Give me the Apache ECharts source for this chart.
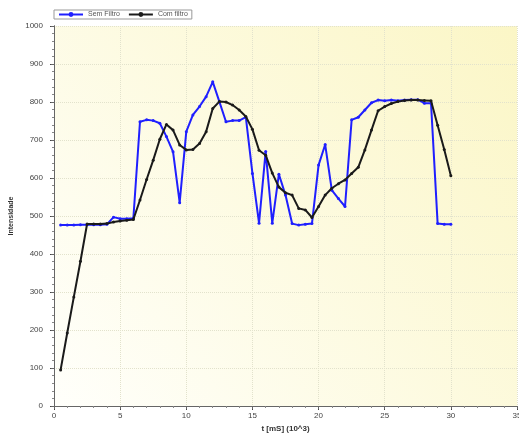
<!DOCTYPE html>
<html><head><meta charset="utf-8">
<script src="https://cdn.jsdelivr.net/npm/echarts@6/dist/echarts.min.js"></script>
<style>html,body{margin:0;padding:0;background:#fff}#c{width:519px;height:438px}</style>
</head><body><div id="c"></div>
<script>
var times = [0.5,1,1.5,2,2.5,3,3.5,4,4.5,5,5.5,6,6.5,7,7.5,8,8.5,9,9.5,10,10.5,11,11.5,12,12.5,13,13.5,14,14.5,15,15.5,16,16.5,17,17.5,18,18.5,19,19.5,20,20.5,21,21.5,22,22.5,23,23.5,24,24.5,25,25.5,26,26.5,27,27.5,28,28.5,29,29.5,30];
var semFiltro = [476,476,476,477,477,477,477,478,497,493,493,494,748,753,751,744,709,669,535,722,766,788,814,853,801,748,751,751,760,612,481,670,481,610,555,480,476,478,480,634,688,568,546,525,753,760,779,798,805,803,805,803,805,806,806,797,797,480,478,478];
var comFiltro = [95,192,287,381,479,479,479,480,484,487,489,491,542,596,647,702,741,726,687,674,675,691,722,783,801,800,792,779,762,728,673,660,613,576,561,555,520,516,496,525,555,573,585,595,612,628,674,726,777,788,796,801,804,805,805,804,803,739,675,606];
var yTicks = [0,100,200,300,400,500,600,700,800,900,1000];
var xTicks = [0,5,10,15,20,25,30,35];

function pairs(xs, ys){ return xs.map(function(x,i){ return [x, ys[i]]; }); }

var chart = echarts.init(document.getElementById('c'), null, {renderer:'canvas'});
var axisLine = {show:true, lineStyle:{color:'#444', width:1}};
chart.setOption({
  animation:false,
  backgroundColor:'#fff',
  legend:{
    left:54, top:10, itemGap:8, itemWidth:24, itemHeight:6,
    padding:[1,4,1,4],
    borderColor:'#999', borderWidth:1, backgroundColor:'#fff',
    textStyle:{fontSize:7, color:'#555', fontFamily:'Liberation Sans'},
    data:['Sem Filtro','Com filtro']
  },
  grid:{left:54, right:2, top:26, bottom:32, show:true, borderWidth:0, outerBoundsMode:'none', containLabel:false,
    backgroundColor:new echarts.graphic.LinearGradient(0,1,1,0,[{offset:0,color:'#fffffb'},{offset:1,color:'#fbf6c6'}])},
  xAxis:[{
    type:'value', min:0, max:35, interval:5,
    name:'t [mS] (10^3)', nameLocation:'middle', nameGap:17,
    nameTextStyle:{fontSize:8, fontWeight:'bold', color:'#333', fontFamily:'Liberation Sans'},
    axisLine:axisLine,
    axisTick:{show:true, length:4, lineStyle:{color:'#444'}},
    minorTick:{show:true, splitNumber:5, length:2, lineStyle:{color:'#444'}},
    axisLabel:{fontSize:8, color:'#444', margin:6, fontFamily:'Liberation Sans',
      formatter:function(v){ return xTicks.indexOf(v)>=0 ? String(v) : ''; }},
    splitLine:{show:true, lineStyle:{color:'#e2e2cc', type:'dotted', width:1}}
  },{
    type:'value', position:'top', min:0, max:35, interval:5,
    axisLine:{show:true, lineStyle:{color:'#666', width:1}},
    axisTick:{show:true, inside:true, length:3, lineStyle:{color:'#666'}},
    minorTick:{show:true, splitNumber:5, length:2, lineStyle:{color:'#888'}},
    axisLabel:{show:false}, splitLine:{show:false}
  }],
  yAxis:[{
    type:'value', min:0, max:1000, interval:100,
    name:'Intensidade', nameLocation:'middle', nameGap:37, nameRotate:90,
    nameTextStyle:{fontSize:7, fontWeight:'bold', color:'#333', fontFamily:'Liberation Sans'},
    axisLine:axisLine,
    axisTick:{show:true, length:4, lineStyle:{color:'#444'}},
    minorTick:{show:true, splitNumber:5, length:2, lineStyle:{color:'#444'}},
    axisLabel:{fontSize:8, color:'#444', margin:11, fontFamily:'Liberation Sans',
      formatter:function(v){ return yTicks.indexOf(v)>=0 ? String(v) : ''; }},
    splitLine:{show:true, lineStyle:{color:'#e2e2cc', type:'dotted', width:1}}
  },{
    type:'value', position:'right', min:0, max:1000, interval:100,
    axisLine:{show:true, lineStyle:{color:'#666', width:1}},
    axisTick:{show:true, inside:true, length:3, lineStyle:{color:'#666'}},
    minorTick:{show:true, splitNumber:5, length:2, lineStyle:{color:'#888'}},
    axisLabel:{show:false}, splitLine:{show:false}
  }],
  series:[{
    name:'Sem Filtro', type:'line', data:pairs(times, semFiltro),
    symbol:'circle', symbolSize:3, showAllSymbol:true,
    lineStyle:{color:'#1f1fff', width:2}, itemStyle:{color:'#1f1fff'}, z:2
  },{
    name:'Com filtro', type:'line', data:pairs(times, comFiltro),
    symbol:'circle', symbolSize:3, showAllSymbol:true,
    lineStyle:{color:'#1a1a1a', width:2}, itemStyle:{color:'#1a1a1a'}, z:3
  }]
});
</script></body></html>
